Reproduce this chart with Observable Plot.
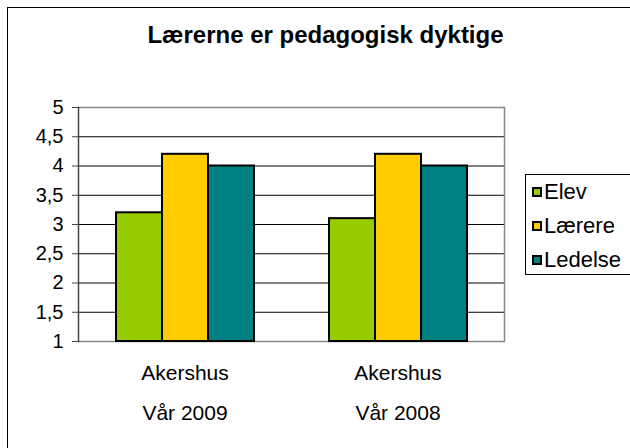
<!DOCTYPE html>
<html>
<head>
<meta charset="utf-8">
<script src="https://cdn.jsdelivr.net/npm/d3@7"></script>
<script src="https://cdn.jsdelivr.net/npm/@observablehq/plot@0.6"></script>
<style>
  html, body { margin: 0; padding: 0; background: #fff; }
  #wrap { position: relative; width: 630px; height: 448px; overflow: hidden; font-family: "Liberation Sans", Arial, sans-serif; }
  #border { position: absolute; left: 7px; top: 7px; width: 660px; height: 480px; border: 1.5px solid #000; box-sizing: border-box; }
  #title { position: absolute; left: 0; top: 23px; width: 651px; text-align: center; font-size: 24px; font-weight: bold; line-height: 23px; color: #000; }
  #legend { position: absolute; left: 525px; top: 174px; width: 130px; height: 101px; border: 1px solid #000; box-sizing: border-box; background: #fff; }
  .item { display: flex; align-items: center; height: 34px; font-size: 22px; color: #000; }
  .sw { width: 10px; height: 10px; border: 2px solid #000; box-sizing: border-box; margin-left: 6px; margin-right: 2px; }
  #chart { position: absolute; left: 0; top: 0; }
</style>
</head>
<body>
<div id="wrap">
  <div id="border"></div>
  <div id="chart"></div>
  <div id="title">Lærerne er pedagogisk dyktige</div>
  <div id="legend"></div>
</div>
<script>
const region = "Akershus";
const periods = ["Vår 2009", "Vår 2008"];
const series = ["Elev", "Lærere", "Ledelse"];
const colors = ["#99CC00", "#FFCC00", "#008080"];
const elev = [3.2, 3.1];
const laerere = [4.2, 4.2];
const ledelse = [4.0, 4.0];
const yTicks = [1, 1.5, 2, 2.5, 3, 3.5, 4, 4.5, 5];

const seriesValues = [elev, laerere, ledelse];
const data = periods.flatMap((p, i) => series.map((s, j) => ({ period: p, series: s, value: seriesValues[j][i] })));

const chart = Plot.plot({
  width: 630,
  height: 448,
  marginLeft: 77,
  marginRight: 126,
  marginTop: 107,
  marginBottom: 107,
  style: { fontFamily: "'Liberation Sans', Arial, sans-serif", fontSize: "20px", background: "transparent", color: "#000" },
  fx: { domain: periods, paddingInner: 0, paddingOuter: 0, axis: null },
  x: { domain: series, paddingInner: 0, paddingOuter: 0.77, axis: null },
  y: { domain: [1, 5], ticks: yTicks, axis: null },
  color: { domain: series, range: colors },
  marks: [
    Plot.ruleY(yTicks.slice(1, -1), { stroke: "#000", strokeWidth: 1 }),
    Plot.ruleY([yTicks[0], yTicks[yTicks.length - 1]], { stroke: "#888", strokeWidth: 1.5 }),
    Plot.frame({ anchor: "right", facetAnchor: "right", stroke: "#888", strokeWidth: 1.5 }),
    Plot.barY(data, { fx: "period", x: "series", y1: yTicks[0], y2: "value", fill: "series", stroke: "#000", strokeWidth: 2 }),
    Plot.frame({ anchor: "left", facetAnchor: "left", stroke: "#444", strokeWidth: 1.5 }),
    Plot.axisY({ ticks: yTicks, label: null, tickFormat: d => String(d).replace(".", ","), tickSize: 6, tickPadding: 9, stroke: "#444", fontSize: 20 }),
    Plot.text(periods, { fx: d => d, text: () => region, frameAnchor: "bottom", lineAnchor: "top", dy: 24, fontSize: 21 }),
    Plot.text(periods, { fx: d => d, text: d => d, frameAnchor: "bottom", lineAnchor: "top", dy: 64, fontSize: 21 })
  ]
});
document.getElementById("chart").appendChild(chart);

const legend = document.getElementById("legend");
series.forEach((s, i) => {
  const row = document.createElement("div");
  row.className = "item";
  const sw = document.createElement("div");
  sw.className = "sw";
  sw.style.background = colors[i];
  const t = document.createElement("span");
  t.textContent = s;
  row.appendChild(sw);
  row.appendChild(t);
  legend.appendChild(row);
});
</script>
</body>
</html>
